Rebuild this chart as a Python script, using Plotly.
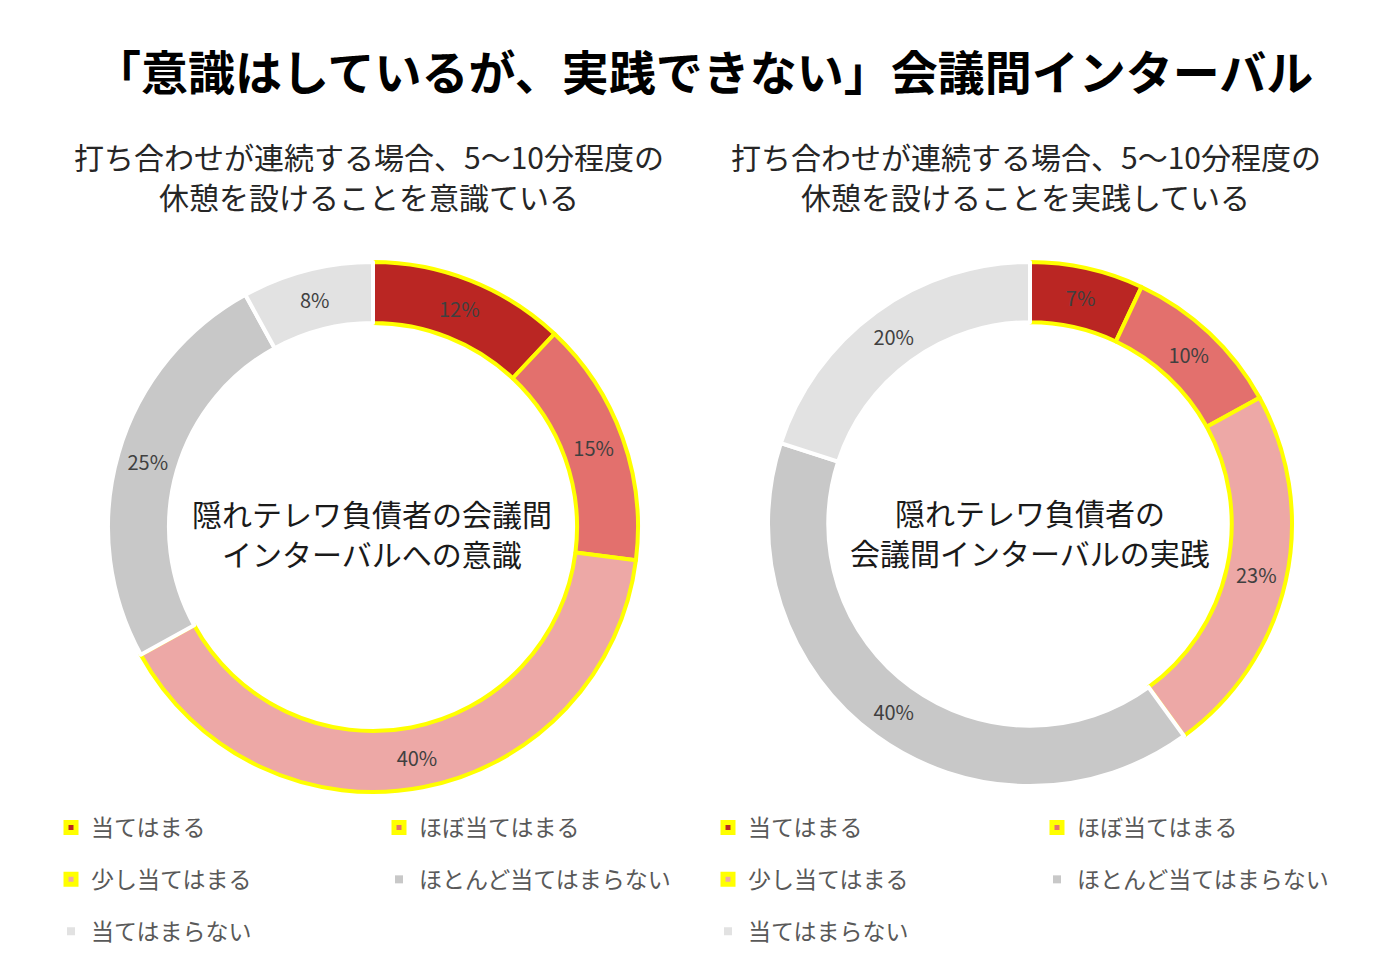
import plotly.graph_objects as go

labels = ["当てはまる", "ほぼ当てはまる", "少し当てはまる", "ほとんど当てはまらない", "当てはまらない"]
awareness = [12, 15, 40, 25, 8]
practice = [7, 10, 23, 40, 20]
colors = ["#BA2623", "#E3706D", "#EDA8A6", "#C8C8C8", "#E2E2E2"]
edge_colors = ["#FFFF00", "#FFFF00", "#FFFF00", "#FFFFFF", "#FFFFFF"]

title = "「意識はしているが、実践できない」会議間インターバル"
left_sub = ["打ち合わせが連続する場合、5～10分程度の", "休憩を設けることを意識ている"]
right_sub = ["打ち合わせが連続する場合、5～10分程度の", "休憩を設けることを実践している"]
left_center = ["隠れテレワ負債者の会議間", "インターバルへの意識"]
right_center = ["隠れテレワ負債者の", "会議間インターバルの実践"]

FONT = "Noto Sans CJK JP"
W, H = 1400, 972
OFF = 8  # page body margin


def px(x):
    return (x - OFF) / W


def py(y):
    return (H - (y - OFF)) / H


fig = go.Figure()


def add_donut(values, cx, cy, r):
    fig.add_trace(go.Pie(
        labels=labels, values=values, sort=False, direction="clockwise", rotation=0,
        hole=0.77, domain=dict(x=[px(cx - r), px(cx + r)], y=[py(cy + r), py(cy - r)]),
        marker=dict(colors=colors, line=dict(color=edge_colors, width=4)),
        texttemplate="%{value}%", textposition="inside", insidetextorientation="horizontal",
        textfont=dict(family=FONT, size=20, color="#404040"),
        hoverinfo="skip", showlegend=False,
    ))


add_donut(awareness, 373, 527, 265)
add_donut(practice, 1030, 524, 262)

# legend entries: one legend per column, row-major order like the original
legend_cols = {
    "legend": [0, 2, 4], "legend2": [1, 3],
    "legend3": [0, 2, 4], "legend4": [1, 3],
}
for lg, idx in legend_cols.items():
    for i in idx:
        fig.add_trace(go.Scatter(
            x=[None], y=[None], mode="markers", name=labels[i],
            legend=lg, legendgroup=lg + str(i),
            marker=dict(symbol="square", size=10 if i < 3 else 8, color=colors[i],
                        line=dict(color=edge_colors[i] if i < 3 else colors[i], width=5 if i < 3 else 0)),
        ))

leg_common = dict(
    orientation="v", yanchor="top", y=py(806), xanchor="left",
    font=dict(family=FONT, size=23, color="#595959"),
    tracegroupgap=19, bgcolor="rgba(0,0,0,0)", itemclick=False, itemdoubleclick=False,
)
fig.update_layout(
    legend=dict(x=px(51), **leg_common),
    legend2=dict(x=px(379), **leg_common),
    legend3=dict(x=px(708), **leg_common),
    legend4=dict(x=px(1037), **leg_common),
)

notes = [
    (703, 70, "<b>" + title + "</b>", 47, "#000000"),
    (369, 156, left_sub[0], 30, "#262626"),
    (369, 196, left_sub[1], 30, "#262626"),
    (1026, 156, right_sub[0], 30, "#262626"),
    (1026, 196, right_sub[1], 30, "#262626"),
    (372, 513, left_center[0], 30, "#1A1A1A"),
    (372, 553, left_center[1], 30, "#1A1A1A"),
    (1030, 512, right_center[0], 30, "#1A1A1A"),
    (1030, 552, right_center[1], 30, "#1A1A1A"),
]
for x, y, text, size, color in notes:
    fig.add_annotation(x=px(x), y=py(y), xref="paper", yref="paper", text=text, showarrow=False,
                       xanchor="center", yanchor="middle",
                       font=dict(family=FONT, size=size, color=color))

fig.update_layout(
    width=W, height=H, margin=dict(l=0, r=0, t=0, b=0),
    paper_bgcolor="white", plot_bgcolor="white",
    xaxis=dict(visible=False), yaxis=dict(visible=False),
    font=dict(family=FONT),
)

fig.write_html("out.html")
